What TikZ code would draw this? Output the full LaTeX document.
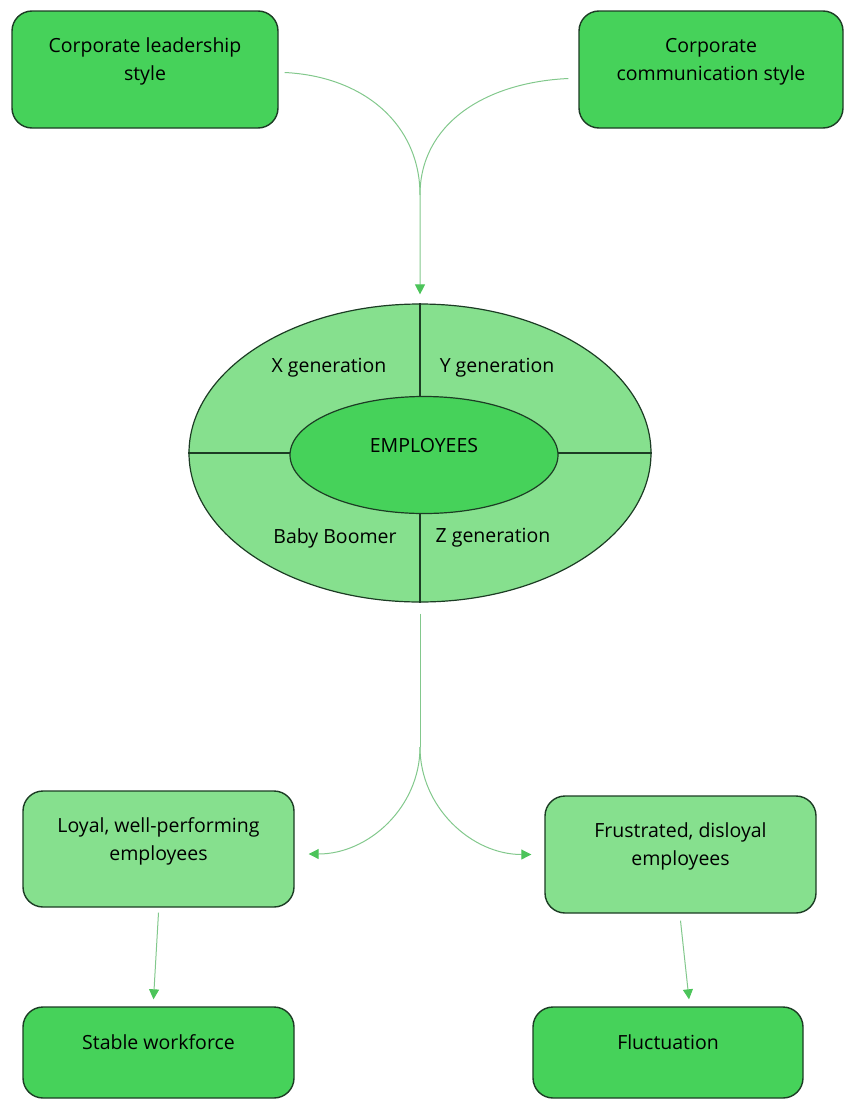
\documentclass[tikz,border=0pt]{standalone}
\usepackage{fontspec}
\setmainfont{Open Sans}
\usetikzlibrary{shapes.geometric}
\usetikzlibrary{arrows.meta}
\definecolor{darkleaf}{RGB}{70,210,90}
\definecolor{lightleaf}{RGB}{134,224,142}
\definecolor{edgeleaf}{RGB}{28,60,36}
\definecolor{linkleaf}{RGB}{130,200,140}
\definecolor{tipleaf}{RGB}{76,196,90}
\tikzstyle{box}=[draw=edgeleaf, line width=1.4pt, rounded corners=20pt, align=center, text depth=20pt, font=\fontsize{19.5}{28}\selectfont]
\tikzstyle{factor}=[box, fill=darkleaf, minimum height=117pt]
\tikzstyle{reaction}=[box, fill=lightleaf, minimum width=271pt, minimum height=116pt]
\tikzstyle{outcome}=[box, fill=darkleaf, minimum width=271pt, minimum height=91pt]
\tikzstyle{group}=[draw=edgeleaf, line width=1.2pt, ellipse, inner sep=0pt]
\tikzstyle{genname}=[font=\fontsize{19.5}{28}\selectfont]
\tikzstyle{divider}=[draw=edgeleaf, line width=1.2pt]
\tikzstyle{branch}=[draw=linkleaf, line width=1pt]
\tikzstyle{link}=[branch, -{Triangle[width=10pt,length=10pt,color=tipleaf]}]

\begin{document}
\begin{tikzpicture}[x=1pt, y=-1pt]
      \useasboundingbox (0,0) rectangle (845,1100);
      \node[factor, minimum width=266pt] (lead) at (145, 69.5) {Corporate leadership\\style};
      \node[factor, minimum width=264pt] (comm) at (711, 69.5) {Corporate\\communication style};
      \node[group, fill=lightleaf, minimum width=462pt, minimum height=298pt] (gen) at (420, 453) {};
      \draw[divider] (gen.north) -- (gen.south);
      \draw[divider] (gen.west) -- (gen.east);
      \node[group, fill=darkleaf, minimum width=268pt, minimum height=117pt, genname, text depth=20pt] (emp) at (424, 455) {EMPLOYEES};
      \node[genname] (genx) at (329, 368) {X generation};
      \node[genname] (geny) at (497, 368) {Y generation};
      \node[genname] (boomer) at (335, 538) {Baby Boomer};
      \node[genname] (genz) at (493, 538) {Z generation};
      \node[reaction] (loyal) at (158.5, 849) {Loyal, well-performing\\employees};
      \node[reaction, minimum height=117pt] (frus) at (680.5, 854.5) {Frustrated, disloyal\\employees};
      \node[outcome] (stable) at (158.5, 1052.5) {Stable workforce};
      \node[outcome, minimum width=270pt] (fluct) at (668, 1052.5) {Fluctuation};
      \coordinate (topjoin) at (420, 195);
      \coordinate (botjoin) at (420, 747);
      \draw[branch] ([shift={(6,3)}]lead.east) .. controls +(80,4) and +(0,-70) .. (topjoin);
      \draw[link] ([shift={(-10,9)}]comm.west) .. controls +(-85,4) and +(0,-70) .. (topjoin)
        -- ([yshift=9]gen.north);
      \draw[branch] ([yshift=-11]gen.south) -- (botjoin);
      \draw[link] (botjoin) .. controls +(0,60) and +(60,0) .. ([shift={(14,5)}]loyal.east);
      \draw[link] (botjoin) .. controls +(0,60) and +(-60,0) .. ([xshift=-13]frus.west);
      \draw[link] ([yshift=-5]loyal.south) -- ([shift={(-5,-7)}]stable.north);
      \draw[link] ([yshift=-7]frus.south) -- ([shift={(21,-7)}]fluct.north);
    \end{tikzpicture}
\end{document}
